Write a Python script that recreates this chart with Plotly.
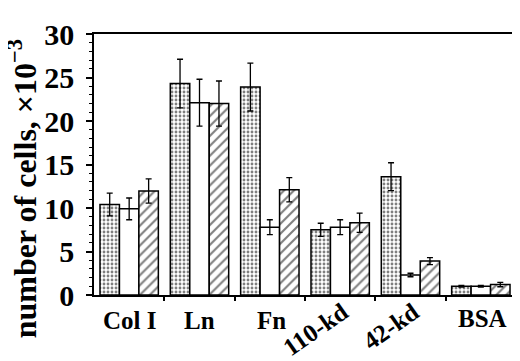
import plotly.graph_objects as go

categories = ["Col I", "Ln", "Fn", "110-kd", "42-kd", "BSA"]
label_angles = [0, 0, 0, -35, -35, 0]

dotted_vals = [10.4, 24.3, 23.9, 7.5, 13.6, 1.0]
dotted_err = [1.3, 2.8, 2.75, 0.75, 1.6, 0.1]
open_vals = [9.9, 22.1, 7.8, 7.8, 2.3, 1.0]
open_err = [1.25, 2.7, 0.85, 0.85, 0.2, 0.1]
hatched_vals = [11.95, 22.0, 12.1, 8.3, 3.9, 1.2]
hatched_err = [1.4, 2.6, 1.4, 1.1, 0.4, 0.25]

y_ticks = [0, 5, 10, 15, 20, 25, 30]

xpos = list(range(len(categories)))
FONT = "Liberation Serif"

# page body has an 8px default margin; size the figure to fit the 520x361 window
W, H = 512, 353
ML, MR, MT, MB = 86, 2, 26, 66

def bar(name, vals, errs, pattern):
    return go.Bar(
        name=name, x=xpos, y=vals,
        error_y=dict(type="data", array=errs, visible=True, color="black",
                     thickness=1.3, width=3),
        marker=dict(color="white", line=dict(color="black", width=1.5),
                    pattern=pattern),
    )

fig = go.Figure()
fig.add_trace(bar("dotted", dotted_vals, dotted_err,
                  dict(shape=".", fgcolor="black", bgcolor="white", size=4, solidity=0.4)))
fig.add_trace(bar("open", open_vals, open_err, dict(shape="")))
fig.add_trace(bar("hatched", hatched_vals, hatched_err,
                  dict(shape="/", fgcolor="black", bgcolor="white", size=7, solidity=0.3)))

fig.update_layout(
    width=W, height=H,
    margin=dict(l=ML, r=MR, t=MT, b=MB),
    paper_bgcolor="white", plot_bgcolor="white",
    barmode="group", bargap=0.17, bargroupgap=0,
    showlegend=False,
    font=dict(family=FONT, color="black"),
)

fig.update_xaxes(
    range=[-0.5, len(categories) - 0.5],
    tickvals=[i + 0.5 for i in range(len(categories) - 1)],
    showticklabels=False,
    ticks="outside", ticklen=4, tickwidth=1.5, tickcolor="black",
    showline=True, linecolor="black", linewidth=1.5, mirror=True,
    showgrid=False, zeroline=False,
)
fig.update_yaxes(
    range=[0, 30],
    tickvals=y_ticks,
    ticks="outside", ticklen=6, tickwidth=1.5, tickcolor="black",
    ticklabelstandoff=6,
    minor=dict(dtick=1, ticks="outside", ticklen=3, tickwidth=1, tickcolor="black"),
    tickfont=dict(family=FONT, size=30, weight="bold", color="black"),
    showline=True, linecolor="black", linewidth=1.5, mirror=True,
    showgrid=False, zeroline=False,
)

# category labels
label_dy = [-25, -25, -25, -34, -31, -23]
label_dx = [0, 0, 2, -25, -20, 2]
for i, (cat, ang) in enumerate(zip(categories, label_angles)):
    fig.add_annotation(
        x=xpos[i], y=0, xref="x", yref="y",
        text=cat, showarrow=False, textangle=ang,
        xshift=label_dx[i], yshift=label_dy[i],
        xanchor="center", yanchor="middle",
        font=dict(family=FONT, size=25, weight="bold", color="black"),
    )

# y axis title
plot_w = W - ML - MR
plot_h = H - MT - MB
fig.add_annotation(
    xref="paper", yref="paper",
    x=(14 - ML) / plot_w, y=(H - MB - 181) / plot_h,
    xanchor="center", yanchor="middle",
    text="number of cells, ×10<sup>−3</sup>", showarrow=False, textangle=-90,
    font=dict(family=FONT, size=32, weight="bold", color="black"),
)

fig.write_html("out.html")
